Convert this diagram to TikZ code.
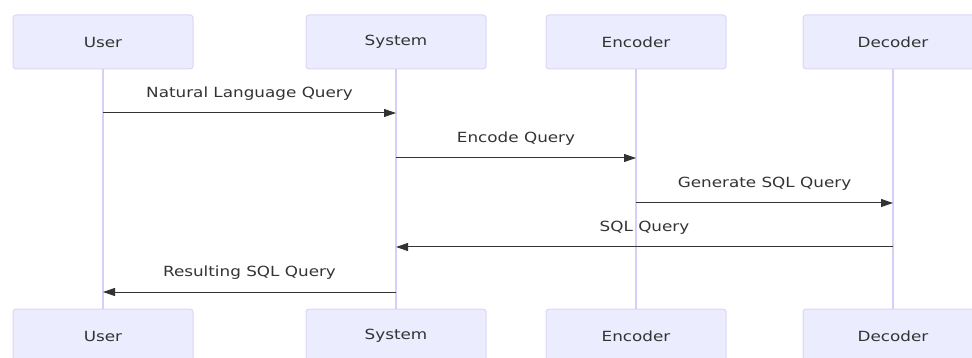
\documentclass[tikz,border=0pt]{standalone}
\usepackage{fontspec}
\newfontfamily\seqfont[FakeStretch=1.2]{DejaVu Sans}
\usetikzlibrary{arrows.meta}
\definecolor{actorfill}{HTML}{ECECFF}
\definecolor{actorline}{HTML}{DDD4F7}
\definecolor{lifecol}{HTML}{D8CEF6}
\definecolor{msgcol}{HTML}{333333}
\tikzset{
  actor/.style={draw=actorline, fill=actorfill, rounded corners=3pt, line width=1pt,
    minimum width=180pt, minimum height=54pt, text=msgcol,
    font=\seqfont\fontsize{14}{16}\selectfont},
  life/.style={draw=lifecol, line width=1.5pt},
  msg/.style={draw=msgcol, line width=1pt, -{Triangle[length=12pt,width=8pt]}},
  msglabel/.style={text=msgcol, font=\seqfont\fontsize{14}{16}\selectfont}
}
\begin{document}
\begin{tikzpicture}[x=1pt, y=-1pt]
    \useasboundingbox (0,0) rectangle (972,358);

    % actors, top and bottom
    \node[actor] (userT) at (103, 42) {User};
    \node[actor] (sysT) at (396, 42) {System};
    \node[actor] (encT) at (636, 42) {Encoder};
    \node[actor] (decT) at (893, 42) {Decoder};

    \node[actor] (userB) at (103, 336) {User};
    \node[actor] (sysB) at (396, 336) {System};
    \node[actor] (encB) at (636, 336) {Encoder};
    \node[actor] (decB) at (893, 336) {Decoder};

    \draw[life] (userT) -- (userB);
    \draw[life] (sysT) -- (sysB);
    \draw[life] (encT) -- (encB);
    \draw[life] (decT) -- (decB);

    % message points on the lifelines
    \coordinate (u1) at (userT |- 0, 113);
    \coordinate (s1) at (sysT |- 0, 113);
    \coordinate (s2) at (sysT |- 0, 158);
    \coordinate (e2) at (encT |- 0, 158);
    \coordinate (e3) at (encT |- 0, 203);
    \coordinate (d3) at (decT |- 0, 203);
    \coordinate (d4) at (decT |- 0, 247);
    \coordinate (s4) at (sysT |- 0, 247);
    \coordinate (s5) at (sysT |- 0, 292);
    \coordinate (u5) at (userT |- 0, 292);

    \draw[msg] (u1) -- (s1) node[msglabel, midway, yshift=19pt] {Natural Language Query};
    \draw[msg] (s2) -- (e2) node[msglabel, midway, yshift=19pt] {Encode Query};
    \draw[msg] (e3) -- (d3) node[msglabel, midway, yshift=19pt] {Generate SQL Query};
    \draw[msg] (d4) -- (s4) node[msglabel, midway, yshift=19pt] {SQL Query};
    \draw[msg] (s5) -- (u5) node[msglabel, midway, yshift=19pt] {Resulting SQL Query};

\end{tikzpicture}
\end{document}
